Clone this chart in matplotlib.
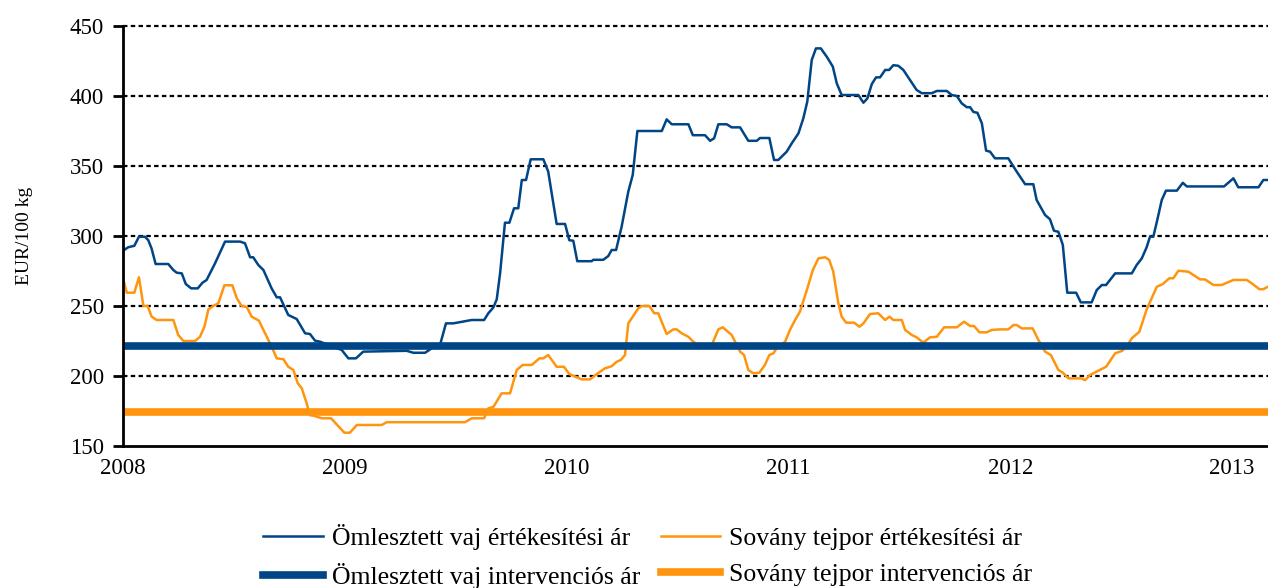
import numpy as np
import matplotlib
matplotlib.use("Agg")
import matplotlib.pyplot as plt

# colours (LibreOffice style palette)
blue = "#004586"
orange = "#ff950e"

# Ömlesztett vaj értékesítési ár (decimal year, EUR/100 kg)
vaj_ev = [2008.000, 2008.024, 2008.051, 2008.072, 2008.099, 2008.114, 2008.129, 2008.147,
          2008.204, 2008.227, 2008.242, 2008.265, 2008.283, 2008.307, 2008.337, 2008.358,
          2008.377, 2008.415, 2008.460, 2008.528, 2008.550, 2008.573, 2008.587, 2008.610,
          2008.633, 2008.670, 2008.693, 2008.708, 2008.745, 2008.783, 2008.821, 2008.843,
          2008.866, 2008.888, 2008.986, 2009.016, 2009.050, 2009.083, 2009.279, 2009.309,
          2009.362, 2009.392, 2009.429, 2009.456, 2009.489, 2009.572, 2009.628, 2009.647,
          2009.670, 2009.685, 2009.700, 2009.722, 2009.742, 2009.763, 2009.782, 2009.798,
          2009.817, 2009.838, 2009.895, 2009.917, 2009.955, 2009.993, 2010.012, 2010.030,
          2010.048, 2010.113, 2010.120, 2010.165, 2010.188, 2010.203, 2010.223, 2010.248,
          2010.278, 2010.298, 2010.319, 2010.429, 2010.451, 2010.474, 2010.549, 2010.569,
          2010.624, 2010.647, 2010.665, 2010.684, 2010.722, 2010.744, 2010.782, 2010.819,
          2010.857, 2010.872, 2010.914, 2010.935, 2010.954, 2010.992, 2011.015, 2011.045,
          2011.067, 2011.085, 2011.105, 2011.124, 2011.146, 2011.173, 2011.200, 2011.218,
          2011.240, 2011.315, 2011.338, 2011.356, 2011.376, 2011.395, 2011.413, 2011.436,
          2011.454, 2011.473, 2011.495, 2011.518, 2011.578, 2011.601, 2011.646, 2011.669,
          2011.714, 2011.736, 2011.759, 2011.781, 2011.804, 2011.819, 2011.834, 2011.852,
          2011.872, 2011.891, 2011.909, 2011.931, 2011.991, 2012.029, 2012.067, 2012.104,
          2012.119, 2012.157, 2012.179, 2012.197, 2012.217, 2012.237, 2012.257, 2012.297,
          2012.318, 2012.367, 2012.390, 2012.413, 2012.432, 2012.473, 2012.548, 2012.570,
          2012.593, 2012.615, 2012.630, 2012.645, 2012.661, 2012.683, 2012.702, 2012.751,
          2012.778, 2012.796, 2012.964, 2013.006, 2013.028, 2013.119, 2013.141, 2013.162]
vaj_ar = [289.5, 292, 293, 299.5, 299.5, 297, 291, 280,
          280, 275.7, 273.8, 273.3, 265.7, 262.6, 262.6, 266.6,
          268.6, 280.5, 296, 296, 294.8, 284.8, 284.8, 279.3,
          275.7, 262.6, 256.2, 256.2, 243.6, 240.7, 230.5, 230,
          225.2, 224.5, 218.6, 212.6, 212.6, 217.4, 218, 216.6,
          216.6, 219.8, 222, 237.6, 237.6, 240, 240, 244.8,
          249, 254.8, 273.3, 309.5, 309.5, 319.8, 319.8, 340,
          340, 354.8, 354.8, 346, 308.6, 308.6, 297, 296.6,
          282, 282, 283, 283, 285.7, 290, 290, 306.7,
          331.7, 343.6, 375, 375, 383.3, 379.8, 379.8, 372,
          372, 368, 369.8, 379.8, 379.8, 377.6, 377.6, 368,
          368, 370, 370, 354.3, 354.3, 360.2, 366.2, 373.3,
          384, 396, 425.7, 434, 434, 428, 421, 409,
          400.7, 400.7, 395.2, 398.3, 408.6, 413.3, 413.3, 418.6,
          418.6, 422, 421.6, 418.6, 404.3, 402, 402, 403.6,
          403.6, 400.7, 400, 394.8, 392, 392, 388.6, 388,
          380.5, 361, 360.2, 355.5, 355.5, 346, 337, 337,
          325.7, 315, 312, 303.8, 303, 293.6, 259.5, 259.5,
          252.6, 252.6, 261.4, 265, 265, 273.3, 273.3, 279.3,
          284, 292, 299.5, 299.5, 310.2, 325.7, 332.4, 332.4,
          338, 335.4, 335.4, 341.2, 334.8, 334.8, 340, 340]

# Sovány tejpor értékesítési ár
tejpor_ev = [2008.000, 2008.017, 2008.051, 2008.072, 2008.092, 2008.111, 2008.129, 2008.152,
             2008.227, 2008.249, 2008.272, 2008.325, 2008.347, 2008.367, 2008.385, 2008.407,
             2008.430, 2008.457, 2008.493, 2008.513, 2008.535, 2008.558, 2008.580, 2008.613,
             2008.633, 2008.670, 2008.693, 2008.723, 2008.745, 2008.768, 2008.788, 2008.806,
             2008.828, 2008.843, 2008.858, 2008.896, 2008.938, 2008.998, 2009.023, 2009.054,
             2009.166, 2009.189, 2009.542, 2009.572, 2009.628, 2009.647, 2009.670, 2009.707,
             2009.745, 2009.775, 2009.802, 2009.843, 2009.877, 2009.895, 2009.917, 2009.955,
             2009.988, 2010.012, 2010.068, 2010.106, 2010.136, 2010.173, 2010.203, 2010.226,
             2010.244, 2010.263, 2010.278, 2010.323, 2010.339, 2010.373, 2010.395, 2010.413,
             2010.451, 2010.481, 2010.496, 2010.519, 2010.549, 2010.571, 2010.594, 2010.654,
             2010.684, 2010.704, 2010.744, 2010.782, 2010.800, 2010.819, 2010.842, 2010.869,
             2010.894, 2010.914, 2010.932, 2010.947, 2010.985, 2011.007, 2011.030, 2011.052,
             2011.083, 2011.110, 2011.135, 2011.165, 2011.184, 2011.202, 2011.225, 2011.240,
             2011.260, 2011.296, 2011.320, 2011.338, 2011.368, 2011.405, 2011.436, 2011.455,
             2011.473, 2011.511, 2011.526, 2011.556, 2011.578, 2011.608, 2011.638, 2011.669,
             2011.702, 2011.759, 2011.792, 2011.819, 2011.837, 2011.861, 2011.894, 2011.917,
             2011.954, 2011.991, 2012.014, 2012.029, 2012.052, 2012.101, 2012.127, 2012.157,
             2012.183, 2012.217, 2012.237, 2012.262, 2012.322, 2012.337, 2012.360, 2012.397,
             2012.432, 2012.473, 2012.503, 2012.525, 2012.548, 2012.582, 2012.615, 2012.661,
             2012.688, 2012.717, 2012.735, 2012.758, 2012.803, 2012.856, 2012.878, 2012.916,
             2012.953, 2013.006, 2013.066, 2013.089, 2013.123, 2013.141, 2013.162]
tejpor_ar = [269.8, 259.5, 259.5, 270.5, 250, 250, 242.4, 240,
             240, 229.3, 225, 225, 228, 235.2, 247.6, 250,
             252, 264.8, 264.8, 255.5, 250, 249.3, 242.4, 239.5,
             232.9, 221, 212.6, 212, 206.6, 204.3, 194.8, 191.2,
             180.5, 172, 171.7, 169.8, 169.8, 159.5, 159.5, 165,
             165, 167, 167, 169.8, 169.8, 176.9, 178, 187.6,
             187.6, 204.3, 207.9, 207.9, 212.6, 212.6, 215, 206.6,
             206.6, 201.4, 197.6, 197.6, 201.4, 205.5, 207, 210.2,
             211.4, 215, 237.6, 248.3, 250, 250, 244.8, 244.8,
             230, 233.3, 233.3, 230.5, 228, 224.5, 222, 222,
             233.3, 234.8, 229.3, 217.4, 215, 204.3, 201.9, 202.4,
             207.9, 215, 216.2, 219.8, 224.5, 233, 240, 246,
             261.4, 275.7, 284, 284.8, 282.9, 274.5, 252, 242.4,
             238.1, 238.1, 235.2, 237.6, 244.3, 244.8, 240, 242.4,
             240, 240, 232.9, 229.3, 227.6, 223.8, 227.6, 228,
             234.8, 234.8, 238.8, 235.7, 235.7, 231.2, 231.2, 232.9,
             233.3, 233.3, 236.4, 236.4, 234, 234, 225.7, 217.4,
             215, 204.3, 202.4, 198.3, 198.3, 197, 200.7, 203.8,
             206.6, 216.2, 217.9, 221, 227, 231.6, 247.6, 263.8,
             265.7, 269.8, 269.8, 275.2, 274.5, 269, 269, 265,
             265, 268.6, 268.6, 266.2, 262, 262, 263.8]

# intervenciós árak
vaj_interv = 221.75
tejpor_interv = 174.5

evek = [2008, 2009, 2010, 2011, 2012, 2013]
y_ticks = [150, 200, 250, 300, 350, 400, 450]

plt.rcParams['font.family'] = ['Liberation Serif', 'DejaVu Serif']

fig = plt.figure(figsize=(12.68, 5.88), dpi=100)
ax = fig.add_axes([123/1268, 1 - 446/588, 1 - 123/1268, 420/588])

l1, = ax.plot(vaj_ev, vaj_ar, color=blue, lw=1.8, zorder=3,
              label="Ömlesztett vaj értékesítési ár")
l3, = ax.plot(tejpor_ev, tejpor_ar, color=orange, lw=1.8, zorder=3,
              label="Sovány tejpor értékesítési ár")
l2 = ax.axhline(vaj_interv, color=blue, lw=5.5, zorder=4,
                label="Ömlesztett vaj intervenciós ár")
l4 = ax.axhline(tejpor_interv, color=orange, lw=5.5, zorder=4,
                label="Sovány tejpor intervenciós ár")

ax.set_xlim(2008, 2013.162)
ax.set_ylim(150, 450)
ax.set_xticks(evek)
ax.set_xticklabels([str(e) for e in evek])
ax.set_yticks(y_ticks)

# dotted horizontal grid
for v in y_ticks[1:]:
    ax.axhline(v, color="black", lw=1.6, ls=(0, (2, 1.5)), zorder=1, clip_on=False)

for side in ["top", "right"]:
    ax.spines[side].set_visible(False)
for side in ["left", "bottom"]:
    ax.spines[side].set_linewidth(2.0)
    ax.spines[side].set_zorder(5)

ax.tick_params(axis="y", direction="out", length=7, width=2.0, pad=6.5, labelsize=16.5)
ax.tick_params(axis="x", length=0, pad=9, labelsize=16.5)

ax.set_ylabel("EUR/100 kg", fontsize=14)
ax.yaxis.set_label_coords(-0.079, 0.5)

fig.legend(handles=[l1, l2, l3, l4], loc="center", bbox_to_anchor=(0.511, 0.053),
           ncol=2, frameon=False, fontsize=18.5, handlelength=2.33,
           handletextpad=0.35, columnspacing=0.78, labelspacing=0.5)

fig.savefig("out.png", dpi=100)
